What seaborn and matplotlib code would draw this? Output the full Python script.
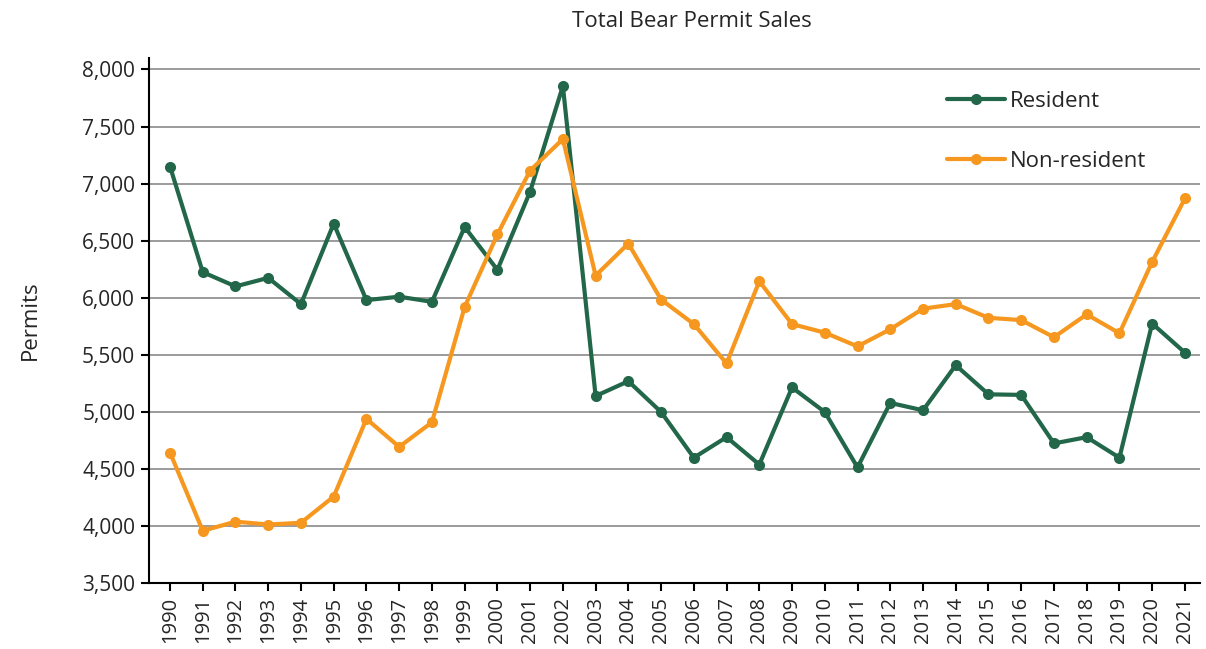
import numpy as np
import pandas as pd
import matplotlib
matplotlib.use("Agg")
import matplotlib.pyplot as plt
import matplotlib.ticker as mticker
import seaborn as sns

# ---------------------------------------------------------------
# DATA
# ---------------------------------------------------------------
years = list(range(1990, 2022))

resident = [7150, 6225, 6100, 6175, 5945, 6650, 5980, 6010, 5965, 6620,
            6245, 6930, 7855, 5140, 5270, 5000, 4600, 4780, 4540, 5215,
            5000, 4515, 5080, 5015, 5410, 5155, 5150, 4725, 4780, 4600,
            5775, 5520]

non_resident = [4645, 3960, 4040, 4015, 4030, 4260, 4940, 4695, 4910, 5920,
                6555, 7115, 7390, 6195, 6475, 5985, 5770, 5425, 6145, 5770,
                5695, 5575, 5725, 5905, 5945, 5825, 5805, 5655, 5855, 5690,
                6315, 6870]

series_names = ["Resident", "Non-resident"]
series_colors = ["#22674a", "#f6981f"]

df = pd.DataFrame({
    "Year": years * 2,
    "Permits": resident + non_resident,
    "Type": [series_names[0]] * len(years) + [series_names[1]] * len(years),
})

# ---------------------------------------------------------------
# PLOT
# ---------------------------------------------------------------
sns.set_style("white")
plt.rcParams["font.family"] = ["Open Sans", "DejaVu Sans"]

fig = plt.figure(figsize=(12.06, 6.49), dpi=100)
ax = fig.add_axes([0.1236, 0.1012, 0.8714, 0.8094])

sns.lineplot(data=df, x="Year", y="Permits", hue="Type",
             palette=dict(zip(series_names, series_colors)),
             marker="o", markersize=8, markeredgewidth=0,
             linewidth=3, ax=ax)

ax.set_xlim(1989.36, 2021.46)
ax.set_ylim(3500, 8100)
ax.set_yticks(np.arange(3500, 8001, 500))
ax.yaxis.set_major_formatter(mticker.FuncFormatter(lambda v, p: f"{int(v):,}"))
ax.set_xticks(years)
ax.set_xticklabels([str(y) for y in years], rotation=90, fontsize=14.5)
ax.tick_params(axis="y", labelsize=15)
ax.tick_params(axis="both", direction="out", length=6, width=1.5, color="black",
               bottom=True, left=True, pad=4)

ax.grid(axis="y", color="#8a8a8a", linewidth=1.2)
ax.set_axisbelow(True)
for s in ["top", "right"]:
    ax.spines[s].set_visible(False)
for s in ["left", "bottom"]:
    ax.spines[s].set_color("black")
    ax.spines[s].set_linewidth(1.5)

ax.set_xlabel("")
ax.set_ylabel("Permits", fontsize=16, labelpad=30)

leg = ax.legend(loc="upper left", bbox_to_anchor=(0.74, 0.975), frameon=False,
                fontsize=16, handlelength=2.6, labelspacing=1.75, handletextpad=0.25)

fig.text(0.574, 0.967, "Total Bear Permit Sales", ha="center", va="center",
         fontsize=16)

plt.savefig("out.png", dpi=100)
plt.close()
